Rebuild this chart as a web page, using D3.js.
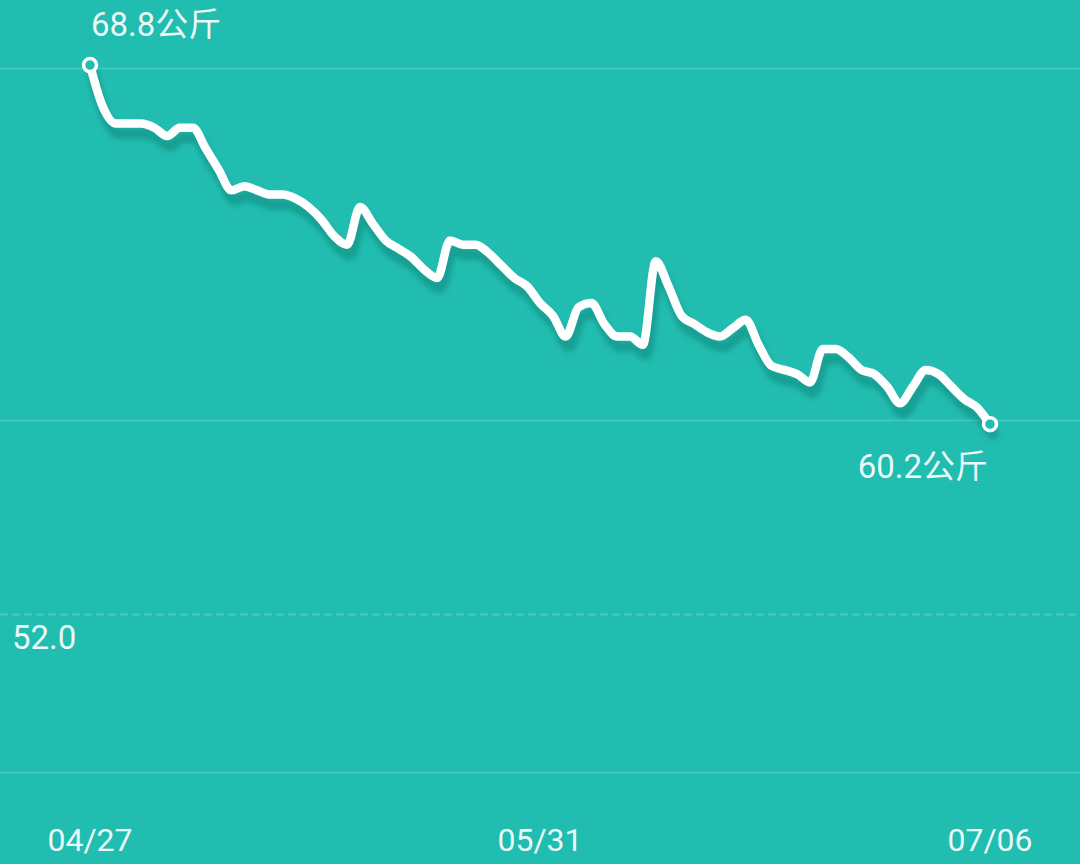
<!DOCTYPE html>
<html>
<head>
<meta charset="utf-8">
<script src="https://cdn.jsdelivr.net/npm/d3@7"></script>
<style>
  html, body { margin: 0; padding: 0; background: #21bdb0; }
  svg { display: block; }
</style>
</head>
<body>
<svg id="chart" width="1080" height="864"></svg>
<script>
// ---- data ----
const xLabels = ["04/27", "05/31", "07/06"];
const weights = [
  68.8, 67.8, 67.4, 67.4, 67.4, 67.3, 67.1, 67.3, 67.3, 66.8,
  66.3, 65.8, 65.9, 65.8, 65.7, 65.7, 65.6, 65.4, 65.1, 64.7,
  64.5, 65.4, 65.0, 64.6, 64.4, 64.2, 63.9, 63.7, 64.6, 64.5,
  64.5, 64.3, 64.0, 63.7, 63.5, 63.1, 62.8, 62.3, 63.0, 63.1,
  62.6, 62.3, 62.3, 62.1, 64.1, 63.5, 62.8, 62.6, 62.4, 62.3,
  62.5, 62.7, 62.1, 61.6, 61.5, 61.4, 61.2, 62.0, 62.0, 61.8,
  61.5, 61.4, 61.1, 60.7, 61.1, 61.5, 61.4, 61.1, 60.8, 60.6,
  60.2
];
const gridValues = [68.73, 60.30, 51.87];
const targetLineValue = 55.65;
const targetLabel = "52.0";
const unit = "公斤";

// ---- layout ----
const W = 1080, H = 864;
const svg = d3.select("#chart");
const bg = "#21bdb0";
svg.append("rect").attr("width", W).attr("height", H).attr("fill", bg);

const x = d3.scaleLinear().domain([0, weights.length - 1]).range([90, 990]);
const y = d3.scaleLinear().domain([51.87, 68.73]).range([772, 68]);
const xLab = d3.scalePoint().domain(xLabels).range([90, 990]);

const defs = svg.append("defs");
defs.append("filter").attr("id", "blur")
  .attr("x", "-10%").attr("y", "-10%").attr("width", "120%").attr("height", "120%")
  .append("feGaussianBlur").attr("stdDeviation", 2.5);

// gridlines
svg.append("g").selectAll("line").data(gridValues).join("line")
  .attr("x1", 0).attr("x2", W)
  .attr("y1", d => Math.round(y(d)) + 0.5).attr("y2", d => Math.round(y(d)) + 0.5)
  .attr("stroke", "rgba(255,255,255,0.16)").attr("stroke-width", 2);

// dashed target line
svg.append("line")
  .attr("x1", 0).attr("x2", W)
  .attr("y1", Math.round(y(targetLineValue)) + 0.5).attr("y2", Math.round(y(targetLineValue)) + 0.5)
  .attr("stroke", "rgba(255,255,255,0.18)").attr("stroke-width", 2)
  .attr("stroke-dasharray", "8,4");

const font = "Roboto, 'Noto Sans CJK SC', sans-serif";
function label(txt, px, py, size, anchor) {
  svg.append("text").attr("x", px).attr("y", py)
    .attr("text-anchor", anchor).attr("font-family", font).attr("font-size", size)
    .attr("fill", "#fff").attr("fill-opacity", 0.92).text(txt);
}

label(targetLabel, 12, y(targetLineValue) + 35, 33, "start");

// x labels
xLabels.forEach(l => label(l, xLab(l), 851, 32, "middle"));

// line
const line = d3.line().x((d, i) => x(i)).y(d => y(d)).curve(d3.curveMonotoneX);

svg.append("path").datum(weights)
  .attr("d", line)
  .attr("transform", "translate(3,10)")
  .attr("fill", "none").attr("stroke", "rgba(0,90,80,0.3)")
  .attr("stroke-width", 11).attr("stroke-linejoin", "round").attr("stroke-linecap", "round")
  .attr("filter", "url(#blur)");

svg.append("path").datum(weights)
  .attr("d", line)
  .attr("fill", "none").attr("stroke", "#fff")
  .attr("stroke-width", 8.5).attr("stroke-linejoin", "round").attr("stroke-linecap", "round");

// end markers
const ends = [0, weights.length - 1];
svg.append("g").selectAll("circle").data(ends).join("circle")
  .attr("cx", i => x(i)).attr("cy", i => y(weights[i]))
  .attr("r", 6.5).attr("fill", bg).attr("stroke", "#fff").attr("stroke-width", 3.5);

// value labels
label(weights[0].toFixed(1) + unit, x(0) + 1, 36, 33, "start");
label(weights[weights.length - 1].toFixed(1) + unit, x(weights.length - 1) - 2, 478, 33, "end");
</script>
</body>
</html>
